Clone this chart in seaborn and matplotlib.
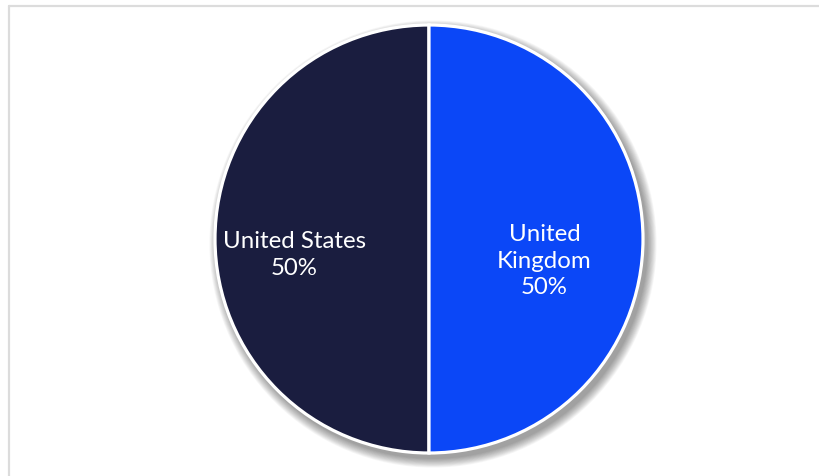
import numpy as np
import matplotlib
matplotlib.use("Agg")
import matplotlib.pyplot as plt
from matplotlib.patches import Circle
from matplotlib.lines import Line2D
import seaborn as sns

# Data
countries = ["United States", "United Kingdom"]
display_labels = ["United States", "United\nKingdom"]
shares = [50, 50]
slice_colors = ["#1a1d3f", "#0b47f7"]

sns.set_theme(style="white")
plt.rcParams["font.family"] = ["Lato", "DejaVu Sans"]

W, H, DPI = 820, 477, 100
fig = plt.figure(figsize=(W / DPI, H / DPI), dpi=DPI)
fig.patch.set_facecolor("white")

# Axes covering the whole canvas; one data unit equals the pie radius in pixels
cx, cy, R = 429, 240, 214.0
ax = fig.add_axes([0, 0, 1, 1])
ax.set_xlim(-cx / R, (W - cx) / R)
ax.set_ylim(-(H - cy) / R, cy / R)
ax.set_aspect("equal")
ax.axis("off")

# Soft drop shadow behind the pie
for i in range(12):
    ax.add_patch(Circle((4 / R, -5 / R), 1.0 + (12 - i) * 0.8 / R,
                        facecolor="black", edgecolor="none", alpha=0.035, zorder=0))

wedges, _ = ax.pie(
    shares,
    colors=slice_colors,
    startangle=90,
    counterclock=True,
    radius=1.0,
    wedgeprops=dict(edgecolor="white", linewidth=2.3),
    frame=False,
)
for w in wedges:
    w.set_zorder(2)

# Labels inside each slice, placed along the slice's mid-angle
label_radius = {"United States": 0.63, "United Kingdom": 0.54}
label_drop = {"United States": 0.07, "United Kingdom": 0.10}
total = sum(shares)
for w, name, text, val in zip(wedges, countries, display_labels, shares):
    mid = np.deg2rad((w.theta1 + w.theta2) / 2)
    r = label_radius[name]
    x, y = r * np.cos(mid), r * np.sin(mid) - label_drop[name]
    ax.text(x, y, f"{text}\n{val / total * 100:.0f}%", ha="center", va="center",
            color="white", fontsize=17.3, linespacing=1.32, zorder=3)

ax.set_xlim(-cx / R, (W - cx) / R)
ax.set_ylim(-(H - cy) / R, cy / R)

# Light frame along the top and left edges
fx0, fy0 = 9.5 / W, 1 - 7 / H
fig.add_artist(Line2D([fx0, 1], [fy0, fy0], transform=fig.transFigure,
                      color="#dcdcdc", linewidth=1.6))
fig.add_artist(Line2D([fx0, fx0], [0, fy0], transform=fig.transFigure,
                      color="#dcdcdc", linewidth=1.6))

fig.savefig("out.png", dpi=DPI, facecolor="white")
